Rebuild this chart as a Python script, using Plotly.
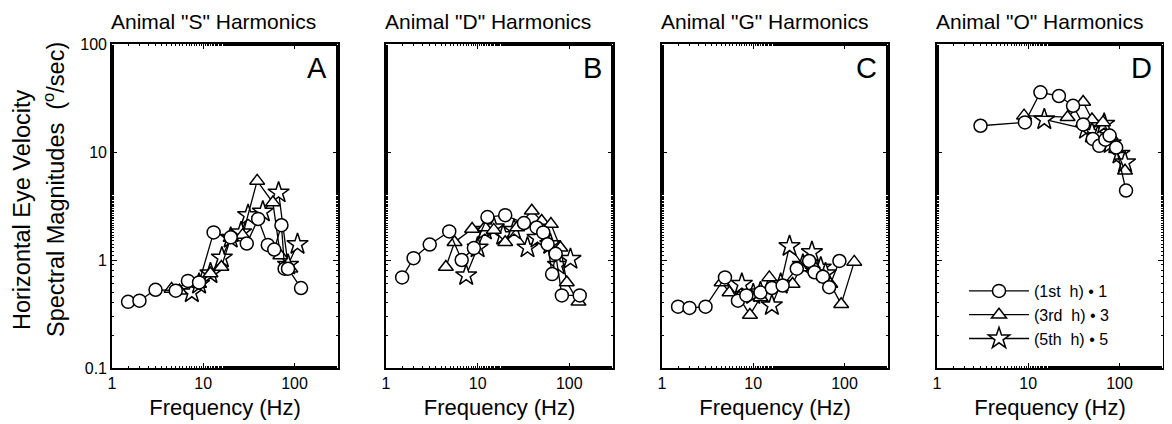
import math
import plotly.graph_objects as go

# ---------------- data ----------------
panels = ["A", "B", "C", "D"]
titles = ['Animal "S" Harmonics', 'Animal "D" Harmonics',
          'Animal "G" Harmonics', 'Animal "O" Harmonics']
series_names = ["(1st  h) \u2022 1", "(3rd  h) \u2022 3", "(5th  h) \u2022 5"]

# Panel A (animal S)
A_f1 = [1.5, 2.0, 3.0, 5.0, 6.8, 9.0, 13.0, 20.0, 30.0, 40.0, 51.0, 60.0, 72.0, 78.0, 85.0, 118.0]
A_v1 = [0.41, 0.42, 0.53, 0.52, 0.64, 0.62, 1.8, 1.62, 1.42, 2.4, 1.38, 1.25, 2.1, 0.83, 0.83, 0.55]
A_f3 = [4.5, 5.5, 9.0, 12.0, 15.8, 20.0, 27.0, 39.0, 58.0, 70.0, 90.0]
A_v3 = [0.54, 0.52, 0.6, 0.75, 0.86, 1.6, 1.7, 5.4, 3.4, 1.1, 0.83]
A_f5 = [7.5, 9.0, 12.0, 16.0, 20.0, 26.0, 31.0, 45.0, 67.0, 85.0, 108.0]
A_v5 = [0.5, 0.6, 0.75, 1.05, 1.6, 1.8, 2.6, 2.8, 4.2, 0.9, 1.4]

# Panel B (animal D)
B_f1 = [1.5, 2.0, 3.0, 4.9, 6.7, 9.1, 12.8, 20.0, 32.0, 44.0, 52.0, 58.0, 65.0, 71.0, 83.0, 130.0]
B_v1 = [0.69, 1.04, 1.39, 1.84, 1.0, 1.29, 2.5, 2.6, 2.2, 2.0, 1.8, 1.4, 0.74, 1.14, 0.47, 0.47]
B_f3 = [4.5, 5.6, 8.7, 12.0, 15.0, 20.0, 27.0, 39.0, 50.0, 63.0, 80.0, 94.0, 126.0]
B_v3 = [0.86, 1.46, 1.94, 2.0, 1.9, 1.46, 2.0, 2.86, 2.3, 2.15, 1.3, 0.62, 0.41]
B_f5 = [7.5, 10.0, 12.0, 15.0, 19.0, 25.0, 35.0, 45.0, 62.0, 75.0, 103.0]
B_v5 = [0.72, 1.3, 1.9, 2.0, 1.7, 1.9, 1.3, 1.6, 1.4, 0.9, 1.02]

# Panel C (animal G)
C_f1 = [1.5, 2.0, 3.0, 4.9, 6.8, 8.4, 12.0, 16.0, 21.0, 30.0, 41.0, 47.0, 58.0, 68.0, 88.0]
C_v1 = [0.37, 0.36, 0.37, 0.69, 0.42, 0.47, 0.5, 0.55, 0.58, 0.83, 0.98, 0.77, 0.7, 0.56, 0.98]
C_f3 = [4.5, 5.5, 7.0, 9.2, 12.0, 15.0, 20.0, 27.0, 33.0, 45.0, 60.0, 70.0, 92.0, 128.0]
C_v3 = [0.62, 0.5, 0.45, 0.31, 0.45, 0.69, 0.56, 0.6, 0.85, 0.9, 0.7, 0.6, 0.39, 0.96]
C_f5 = [7.5, 10.0, 12.0, 16.0, 20.0, 25.0, 35.0, 44.0, 55.0, 62.0]
C_v5 = [0.6, 0.48, 0.5, 0.38, 0.6, 1.34, 0.9, 1.18, 0.85, 0.75]

# Panel D (animal O)
D_f1 = [3.0, 9.2, 13.6, 21.7, 31.0, 40.0, 51.0, 60.0, 70.0, 78.0, 92.0, 118.0]
D_v1 = [17.5, 18.8, 35.7, 33.0, 26.8, 18.0, 13.2, 11.4, 13.0, 14.2, 11.0, 4.4]
D_f3 = [9.0, 27.0, 40.0, 50.0, 66.0, 80.0, 92.0, 115.0]
D_v3 = [21.7, 21.0, 29.0, 20.0, 18.8, 14.0, 10.6, 6.7]
D_f5 = [15.0, 43.0, 50.0, 58.0, 68.0, 80.0, 100.0, 115.0]
D_v5 = [20.0, 16.3, 15.0, 14.0, 18.2, 12.0, 9.6, 8.0]

data = {
    "A": [(A_f1, A_v1), (A_f3, A_v3), (A_f5, A_v5)],
    "B": [(B_f1, B_v1), (B_f3, B_v3), (B_f5, B_v5)],
    "C": [(C_f1, C_v1), (C_f3, C_v3), (C_f5, C_v5)],
    "D": [(D_f1, D_v1), (D_f3, D_v3), (D_f5, D_v5)],
}

x_tickvals = [1, 10, 100]
x_ticktext = ["1", "10", "100"]
y_tickvals = [0.1, 1, 10, 100]
y_ticktext = ["0.1", "1", "10", "100"]

# ---------------- layout geometry ----------------
# the page body has an 8 px margin, so the figure is drawn 8 px smaller
OFF = 8
W, H = 1172 - OFF, 424 - OFF
FONT = "Liberation Sans, Arial, Helvetica, sans-serif"
panel_px = [(112, 338), (386, 613), (662, 888), (937, 1163)]
top_px, bot_px = 44, 368


def px_x(v):
    return (v - OFF) / W


def px_y(v):
    return 1 - (v - OFF) / H


symbols = ["circle", "triangle-up", "star"]
sizes = [13, 13, 16]

fig = go.Figure()

for i, p in enumerate(panels):
    ax = "" if i == 0 else str(i + 1)
    # draw stars first, circles last
    for k in [2, 1, 0]:
        fx, vy = data[p][k]
        fig.add_trace(go.Scatter(
            x=fx, y=vy, mode="lines+markers",
            xaxis="x" + ax, yaxis="y" + ax,
            name=series_names[k], legendrank=k + 1,
            showlegend=(p == "D"),
            line=dict(color="black", width=1.3),
            marker=dict(symbol=symbols[k], size=sizes[k], color="white",
                        line=dict(color="black", width=1.5)),
        ))

    x0, x1 = panel_px[i]
    common = dict(
        type="log", showline=True, linewidth=1.6, linecolor="black",
        mirror="allticks", ticks="inside", ticklen=5, tickwidth=1.2,
        tickcolor="black", showgrid=False, zeroline=False, automargin=False,
        minor=dict(ticks="inside", ticklen=2, tickcolor="black", tickwidth=0.8, showgrid=False),
        tickfont=dict(family=FONT, size=16, color="black"),
    )
    fig.update_layout(**{
        "xaxis" + ax: dict(common, domain=[px_x(x0), px_x(x1)], range=[0, math.log10(300)],
                           anchor="y" + ax, tickvals=x_tickvals, ticktext=x_ticktext,
                           title=dict(text="Frequency (Hz)", font=dict(family=FONT, size=22, color="black"),
                                      standoff=9)),
        "yaxis" + ax: dict(common, domain=[px_y(bot_px), px_y(top_px)], range=[-1, 2],
                           anchor="x" + ax, tickvals=y_tickvals, ticktext=y_ticktext,
                           showticklabels=(i == 0)),
    })
    # panel title
    fig.add_annotation(text=titles[i], xref="x" + ax + " domain", yref="paper",
                       x=0, y=px_y(22), xanchor="left", yanchor="middle", xshift=-3,
                       showarrow=False, font=dict(family=FONT, size=21, color="black"))
    # panel letter
    fig.add_annotation(text=p, xref="x" + ax + " domain", yref="y" + ax + " domain",
                       x=1, y=1, xanchor="right", yanchor="top", xshift=-9, yshift=-6,
                       showarrow=False, font=dict(family=FONT, size=29, color="black"))

# y-axis title (two lines)
fig.add_annotation(text="Horizontal Eye Velocity", xref="paper", yref="paper",
                   x=px_x(22), y=px_y(210), textangle=-90, showarrow=False,
                   xanchor="center", yanchor="middle",
                   font=dict(family=FONT, size=23.5, color="black"))
fig.add_annotation(text="Spectral Magnitudes  (<sup>o</sup>/sec)", xref="paper", yref="paper",
                   x=px_x(54), y=px_y(190), textangle=-90, showarrow=False,
                   xanchor="center", yanchor="middle",
                   font=dict(family=FONT, size=23.5, color="black"))

fig.update_layout(
    width=W, height=H, margin=dict(l=0, r=0, t=0, b=0, autoexpand=False),
    paper_bgcolor="white", plot_bgcolor="white",
    font=dict(family=FONT, color="black"),
    legend=dict(x=px_x(964), y=px_y(274), xanchor="left", yanchor="top",
                bgcolor="rgba(0,0,0,0)", borderwidth=0, itemwidth=60,
                font=dict(family=FONT, size=16, color="black"),
                tracegroupgap=0),
)

fig.write_html("out.html")
